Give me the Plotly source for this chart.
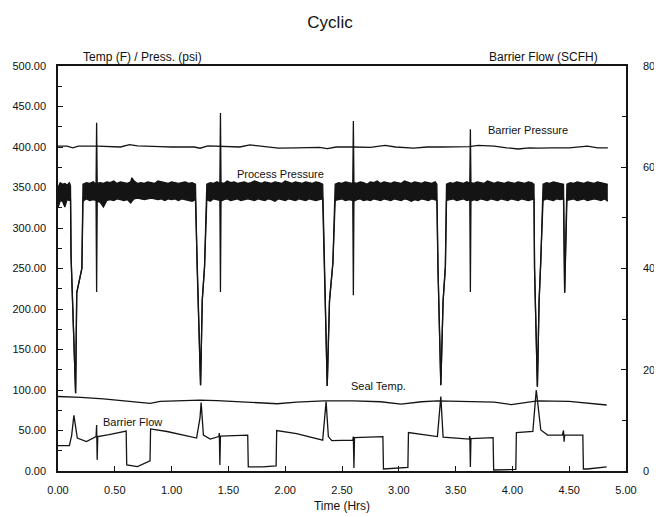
import plotly.graph_objects as go

# ---------------- data ----------------
# Barrier pressure (psi, left axis)
bp_time = [0.00, 0.08, 0.13, 0.18, 0.35, 0.55, 0.63, 0.70, 0.90, 1.00,
           1.20, 1.25, 1.32, 1.45, 1.60, 1.69, 1.80, 1.94, 2.10, 2.30,
           2.37, 2.45, 2.60, 2.75, 2.88, 2.97, 3.13, 3.25, 3.37, 3.50,
           3.62, 3.70, 3.84, 3.95, 4.05, 4.15, 4.22, 4.35, 4.50, 4.66,
           4.75, 4.84]
bp_value = [401, 401, 399, 401, 401, 400, 403, 401.5, 400.5, 400,
            400, 398.5, 401.5, 400.5, 400, 402.5, 400.5, 398.5, 399, 399.5,
            398, 400, 400, 399.5, 402, 400, 398.5, 400, 400, 400,
            400.5, 402, 401, 399, 397.5, 399, 398.5, 399, 399, 401,
            399, 399]

# Process pressure (psi, left axis): upper / lower envelope of the noisy trace
pp_time = [0.00, 0.02, 0.04, 0.06, 0.08, 0.10, 0.11, 0.115, 0.155, 0.165,
           0.21, 0.22, 0.25, 0.28, 0.31, 0.335, 0.34, 0.345, 0.37, 0.40,
           0.43, 0.46, 0.49, 0.52, 0.55, 0.58, 0.61, 0.64, 0.65, 0.67,
           0.70, 0.73, 0.76, 0.79, 0.82, 0.85, 0.88, 0.91, 0.94, 0.97,
           1.00, 1.03, 1.06, 1.09, 1.12, 1.15, 1.18, 1.21, 1.225, 1.255,
           1.27, 1.29, 1.31, 1.34, 1.37, 1.40, 1.425, 1.43, 1.435, 1.46,
           1.49, 1.52, 1.55, 1.58, 1.61, 1.64, 1.67, 1.70, 1.73, 1.76,
           1.79, 1.82, 1.85, 1.88, 1.91, 1.94, 1.97, 2.00, 2.03, 2.06,
           2.09, 2.12, 2.15, 2.18, 2.21, 2.24, 2.27, 2.30, 2.33, 2.345,
           2.37, 2.39, 2.42, 2.44, 2.47, 2.50, 2.53, 2.56, 2.595, 2.60,
           2.605, 2.63, 2.66, 2.69, 2.72, 2.75, 2.78, 2.81, 2.84, 2.87,
           2.90, 2.93, 2.96, 2.99, 3.02, 3.05, 3.08, 3.11, 3.14, 3.17,
           3.20, 3.23, 3.26, 3.29, 3.32, 3.335, 3.345, 3.37, 3.39, 3.41,
           3.42, 3.45, 3.48, 3.51, 3.54, 3.57, 3.60, 3.625, 3.63, 3.635,
           3.66, 3.69, 3.72, 3.75, 3.78, 3.81, 3.84, 3.87, 3.90, 3.93,
           3.96, 3.99, 4.02, 4.05, 4.08, 4.11, 4.14, 4.17, 4.19, 4.195,
           4.22, 4.235, 4.25, 4.27, 4.30, 4.33, 4.36, 4.39, 4.42, 4.45,
           4.46, 4.48, 4.51, 4.54, 4.57, 4.60, 4.63, 4.66, 4.69, 4.72,
           4.75, 4.78, 4.81, 4.84]
pp_high = [350, 356, 354, 355, 353, 356, 352, 265, 96, 220,
           250, 354, 356, 355, 357, 354, 430, 355, 356, 355,
           357, 356, 358, 355, 357, 356, 355, 357, 362, 358,
           355, 356, 355, 357, 356, 355, 358, 357, 356, 355,
           357, 356, 355, 356, 357, 355, 356, 354, 250, 106,
           211, 252, 354, 356, 355, 357, 355, 442, 356, 355,
           358, 356, 357, 355, 356, 357, 355, 356, 358, 356,
           355, 357, 356, 355, 357, 356, 355, 358, 356, 355,
           357, 356, 355, 357, 356, 355, 357, 356, 354, 250,
           105, 210, 257, 354, 356, 355, 357, 356, 355, 432,
           356, 355, 357, 356, 354, 357, 356, 358, 355, 357,
           356, 355, 357, 356, 355, 358, 356, 355, 357, 356,
           355, 357, 356, 355, 357, 354, 250, 106, 210, 252,
           354, 356, 355, 357, 356, 355, 357, 355, 422, 356,
           355, 357, 356, 355, 358, 356, 355, 357, 356, 355,
           357, 356, 355, 357, 356, 355, 357, 356, 354, 250,
           104, 210, 257, 354, 356, 355, 357, 356, 355, 354,
           220, 354, 356, 355, 357, 356, 355, 357, 356, 355,
           357, 356, 355, 354]
pp_low = [325, 334, 333, 326, 335, 334, 336, 265, 96, 220,
          250, 333, 336, 334, 335, 334, 221, 333, 332, 326,
          334, 335, 334, 336, 335, 334, 335, 331, 333, 336,
          337, 336, 335, 336, 337, 336, 335, 336, 334, 336,
          335, 336, 334, 336, 335, 334, 333, 335, 250, 106,
          211, 252, 335, 333, 336, 335, 334, 221, 333, 335,
          336, 334, 335, 336, 334, 335, 336, 335, 334, 336,
          335, 334, 336, 335, 333, 336, 335, 334, 336, 335,
          334, 336, 335, 334, 336, 335, 334, 335, 336, 250,
          105, 210, 257, 334, 335, 336, 334, 335, 334, 217,
          333, 335, 336, 334, 335, 334, 336, 335, 334, 336,
          335, 334, 336, 335, 334, 336, 335, 333, 335, 334,
          336, 335, 334, 336, 335, 334, 250, 106, 210, 252,
          334, 335, 336, 334, 335, 336, 334, 335, 221, 333,
          335, 334, 336, 335, 334, 336, 335, 334, 336, 335,
          334, 336, 335, 334, 336, 335, 334, 335, 336, 250,
          104, 210, 257, 334, 336, 335, 334, 336, 335, 336,
          220, 334, 335, 336, 334, 335, 336, 334, 335, 336,
          335, 334, 336, 333]

# Seal temperature (F, left axis)
st_time = [0.00, 0.20, 0.40, 0.60, 0.72, 0.81, 0.90, 1.10, 1.25, 1.40,
           1.60, 1.80, 1.93, 2.10, 2.34, 2.60, 2.84, 3.02, 3.20, 3.34,
           3.60, 3.84, 3.99, 4.15, 4.22, 4.50, 4.66, 4.83]
st_value = [92, 91, 89, 86, 84, 83.5, 86, 87, 87.5, 87,
            85.5, 84, 83, 85, 86.5, 86.5, 85.5, 82.5, 85.5, 86.5,
            86, 85, 82, 85, 86.5, 86, 84, 81.5]

# Barrier flow (SCFH, right axis)
bf_time = [0.00, 0.10, 0.12, 0.14, 0.17, 0.25, 0.335, 0.34, 0.345, 0.35,
           0.45, 0.60, 0.605, 0.70, 0.81, 0.815, 0.96, 1.10, 1.22, 1.25,
           1.26, 1.28, 1.34, 1.415, 1.42, 1.425, 1.43, 1.55, 1.67, 1.675,
           1.80, 1.92, 1.925, 2.10, 2.33, 2.36, 2.38, 2.41, 2.595, 2.60,
           2.605, 2.61, 2.86, 2.865, 3.00, 3.08, 3.085, 3.20, 3.34, 3.37,
           3.39, 3.62, 3.625, 3.63, 3.635, 3.83, 3.835, 4.03, 4.035, 4.18,
           4.21, 4.25, 4.31, 4.44, 4.45, 4.455, 4.46, 4.62, 4.625, 4.66,
           4.83]
bf_value = [5.0, 5.0, 7.0, 11.0, 6.5, 5.8, 6.8, 9.1, 2.2, 6.8,
            7.2, 7.9, 1.2, 0.85, 2.0, 8.3, 7.8, 7.1, 6.5, 10.5,
            13.5, 7.1, 6.3, 6.8, 7.5, 1.2, 6.9, 7.0, 7.1, 0.8,
            0.8, 1.0, 8.0, 7.4, 6.1, 13.7, 6.8, 6.0, 6.1, 6.8,
            0.6, 6.6, 6.8, 0.4, 0.5, 0.7, 7.6, 7.2, 6.8, 14.7,
            6.7, 6.3, 6.9, 0.8, 6.4, 6.6, 0.2, 0.3, 7.6, 7.8,
            16.0, 8.1, 7.1, 7.1, 8.0, 5.8, 7.1, 7.1, 0.4, 0.4,
            0.8]

labels = ["Barrier Pressure", "Process Pressure", "Seal Temp.", "Barrier Flow"]

# ---------------- figure ----------------
# The page body adds an 8px margin, so the figure is 8px smaller each way.
FONT = "Liberation Sans, Arial, Helvetica, sans-serif"
INK = "#141414"
LW = 1.3
W, H = 654, 509
L, R, T, B = 50, 36, 58, 46
PW, PH = W - L - R, H - T - B

fig = go.Figure()
fig.add_trace(go.Scatter(x=bp_time, y=bp_value, mode="lines",
                         line=dict(color=INK, width=LW), name=labels[0]))
fig.add_trace(go.Scatter(x=pp_time, y=pp_low, mode="lines",
                         line=dict(color=INK, width=LW), name=labels[1]))
fig.add_trace(go.Scatter(x=pp_time, y=pp_high, mode="lines",
                         line=dict(color=INK, width=LW), fill="tonexty",
                         fillcolor=INK, name=labels[1]))
fig.add_trace(go.Scatter(x=st_time, y=st_value, mode="lines",
                         line=dict(color=INK, width=LW), name=labels[2]))
fig.add_trace(go.Scatter(x=bf_time, y=bf_value, mode="lines", yaxis="y2",
                         line=dict(color=INK, width=LW), name=labels[3]))

ann_font = dict(family=FONT, size=11, color="#111")
head_font = dict(family=FONT, size=12, color="#111")
annotations = [
    dict(x=4.14, y=421, xref="x", yref="y", text=labels[0], showarrow=False, font=ann_font),
    dict(x=1.96, y=367, xref="x", yref="y", text=labels[1], showarrow=False, font=ann_font),
    dict(x=2.82, y=105, xref="x", yref="y", text=labels[2], showarrow=False, font=ann_font),
    dict(x=0.66, y=60.5, xref="x", yref="y", text=labels[3], showarrow=False, font=ann_font),
    dict(x=(81 - 58) / PW, y=(471 - 48) / PH, xref="paper", yref="paper",
         text="Temp (F) / Press. (psi)", showarrow=False, font=head_font),
    dict(x=(600 - 58) / PW, y=(471 - 48) / PH, xref="paper", yref="paper",
         text="Barrier Flow (SCFH)", showarrow=False, font=head_font),
]

tick_font = dict(family=FONT, size=11, color="#111")
fig.update_layout(
    width=W, height=H,
    margin=dict(l=L, r=R, t=T, b=B, autoexpand=False),
    paper_bgcolor="white", plot_bgcolor="white",
    showlegend=False,
    title=dict(text="Cyclic", x=(330 - 8) / W, xanchor="center", y=(H - 14) / H,
               yanchor="middle", font=dict(family=FONT, size=17, color="#111")),
    annotations=annotations,
    xaxis=dict(range=[0, 5], dtick=0.5, tick0=0, tickformat=".2f", automargin=False,
               showline=True, linecolor=INK, linewidth=1.5, mirror=True,
               ticks="inside", ticklen=5, tickcolor=INK, showgrid=False, zeroline=False,
               tickfont=tick_font, ticklabelstandoff=8,
               title=dict(text="Time (Hrs)", font=head_font, standoff=7)),
    yaxis=dict(range=[0, 500], dtick=50, tick0=0, tickformat=".2f", automargin=False,
               showline=True, linecolor=INK, linewidth=1.5,
               ticks="inside", ticklen=5, tickcolor=INK, showgrid=False, zeroline=False,
               minor=dict(dtick=25, ticks="inside", ticklen=4, tickcolor=INK),
               tickfont=tick_font, ticklabelstandoff=8),
    yaxis2=dict(range=[0, 80], dtick=20, tick0=0, overlaying="y", side="right",
                automargin=False,
                showline=True, linecolor=INK, linewidth=1.5,
                ticks="inside", ticklen=5, tickcolor=INK, showgrid=False, zeroline=False,
                minor=dict(dtick=10, ticks="inside", ticklen=4, tickcolor=INK),
                tickfont=tick_font, ticklabelstandoff=13),
)

fig.write_html("out.html")
